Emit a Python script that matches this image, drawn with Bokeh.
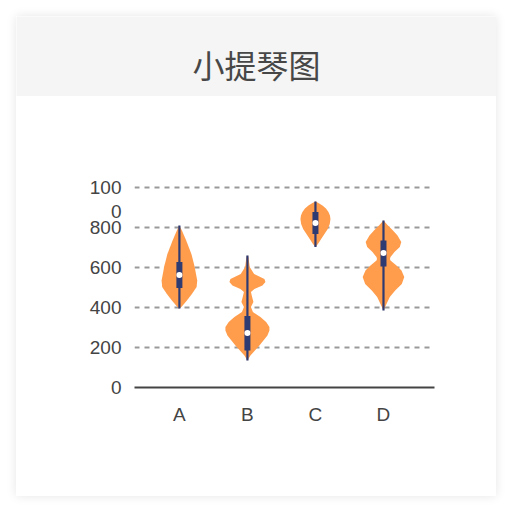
from bokeh.plotting import figure
from bokeh.layouts import column
from bokeh.models import Range1d, FixedTicker
from bokeh.core.properties import value
from bokeh.embed import file_html
from bokeh.resources import INLINE

# ---- data ----
title_text = "小提琴图"
categories = ["A", "B", "C", "D"]
positions = [0, 1, 2, 3]
y_ticks = [0, 200, 400, 600, 800, 1000]
# "1000" is wrapped onto two lines in the reference: "100" / "0"
y_label_ticks = [0, 200, 400, 600, 800, 880, 1000]
y_label_texts = {880: "0", 1000: "100"}

# violin outlines: value levels and half-widths (relative density, px-like units)
a_levels = [395, 402, 435, 468, 502, 535, 602, 668, 735, 785, 810]
a_half = [0, 2, 7.5, 12.5, 17.2, 17.8, 15.3, 12, 6.8, 2.5, 0]

b_levels = [135, 160, 185, 210, 235, 260, 285, 302, 327, 352, 377, 402, 427, 452, 477,
            493, 510, 527, 543, 568, 602, 652, 660]
b_half = [0, 3, 7.5, 12, 16, 20, 22, 22, 18.7, 13, 5.5, 3.5, 6, 4.7, 3.5,
          7, 15, 18, 17, 6.7, 2.3, 1, 0]

c_levels = [702, 718, 743, 768, 793, 818, 843, 860, 877, 895, 910, 922, 930]
c_half = [0, 2.5, 5.7, 9, 12.3, 14.3, 15, 14.5, 13, 10.5, 7, 3, 0]

d_levels = [385, 418, 452, 485, 518, 552, 585, 610, 635, 643, 652, 677, 702, 727, 760,
            785, 810, 835]
d_half = [0, 3, 6.3, 11.7, 18.3, 20.8, 18, 13, 7, 6.5, 7, 11, 16.3, 17.8, 14,
          9.5, 4.5, 0]

levels = [a_levels, b_levels, c_levels, d_levels]
halves = [a_half, b_half, c_half, d_half]

# box plot statistics
mins = [395, 135, 702, 385]
q1s = [497, 185, 768, 605]
medians = [563, 272, 822, 672]
q3s = [627, 357, 877, 735]
maxs = [810, 660, 930, 835]

# ---- styles ----
VIOLIN_COLOR = "#FF9D4D"
BOX_COLOR = "#2E3A72"
TEXT_COLOR = "#444444"
PX_PER_UNIT = 68.0

# ---- header ----
header = figure(width=480, height=80, toolbar_location=None, output_backend="svg",
                x_range=Range1d(0, 480), y_range=Range1d(0, 80),
                min_border=0, x_axis_location=None, y_axis_location=None)
header.frame_align = False
header.background_fill_color = "#f5f5f5"
header.border_fill_color = "#f5f5f5"
header.outline_line_color = None
header.grid.visible = False
header.text(x=[240], y=[32.5], text=[title_text], text_align="center",
            text_baseline="middle", text_font=value("Noto Sans CJK SC"),
            text_font_size="32px", text_color="#474747")

# ---- body ----
p = figure(width=480, height=400, toolbar_location=None, output_backend="svg",
           x_range=Range1d(-0.66, 3.75), y_range=Range1d(0, 1010),
           min_border_left=118, min_border_right=62, min_border_top=89,
           min_border_bottom=109)
p.frame_align = False
p.background_fill_color = "white"
p.border_fill_color = "white"
p.outline_line_color = None

for pos, lv, hw in zip(positions, levels, halves):
    x1 = [pos - h / PX_PER_UNIT for h in hw]
    x2 = [pos + h / PX_PER_UNIT for h in hw]
    p.harea(x1=x1, x2=x2, y=lv, fill_color=VIOLIN_COLOR, fill_alpha=1.0)

p.segment(x0=positions, y0=mins, x1=positions, y1=maxs, line_color=BOX_COLOR,
          line_width=2.2)
p.vbar(x=positions, width=6 / PX_PER_UNIT, bottom=q1s, top=q3s,
       fill_color=BOX_COLOR, line_color=None)
p.scatter(x=positions, y=medians, size=6, marker="circle", fill_color="white",
          line_color=None)

# axes
p.xaxis.ticker = FixedTicker(ticks=positions)
p.xaxis.major_label_overrides = {pos: c for pos, c in zip(positions, categories)}
p.xaxis.axis_line_color = "#444444"
p.xaxis.axis_line_width = 2
p.xaxis.major_tick_line_color = None
p.xaxis.minor_tick_line_color = None
p.xaxis.major_label_text_font = "Liberation Sans"
p.xaxis.major_label_text_font_size = "19px"
p.xaxis.major_label_text_color = TEXT_COLOR
p.xaxis.major_label_standoff = 10

p.yaxis.ticker = FixedTicker(ticks=y_label_ticks)
p.yaxis.major_label_overrides = y_label_texts
p.yaxis.axis_line_color = None
p.yaxis.major_tick_line_color = None
p.yaxis.minor_tick_line_color = None
p.yaxis.major_label_text_font = "Liberation Sans"
p.yaxis.major_label_text_font_size = "19px"
p.yaxis.major_label_text_color = TEXT_COLOR
p.yaxis.major_label_standoff = 7

p.xgrid.grid_line_color = None
p.ygrid.ticker = FixedTicker(ticks=y_ticks)
p.ygrid.grid_line_color = "#999999"
p.ygrid.grid_line_width = 1.8
p.ygrid.grid_line_dash = "5 5"

layout = column(header, p, margin=(16, 16, 16, 16),
                styles={"box-shadow": "0 0 10px rgba(0,0,0,0.10)"})

open("out.html", "w").write(file_html(layout, INLINE, title="小提琴图"))
